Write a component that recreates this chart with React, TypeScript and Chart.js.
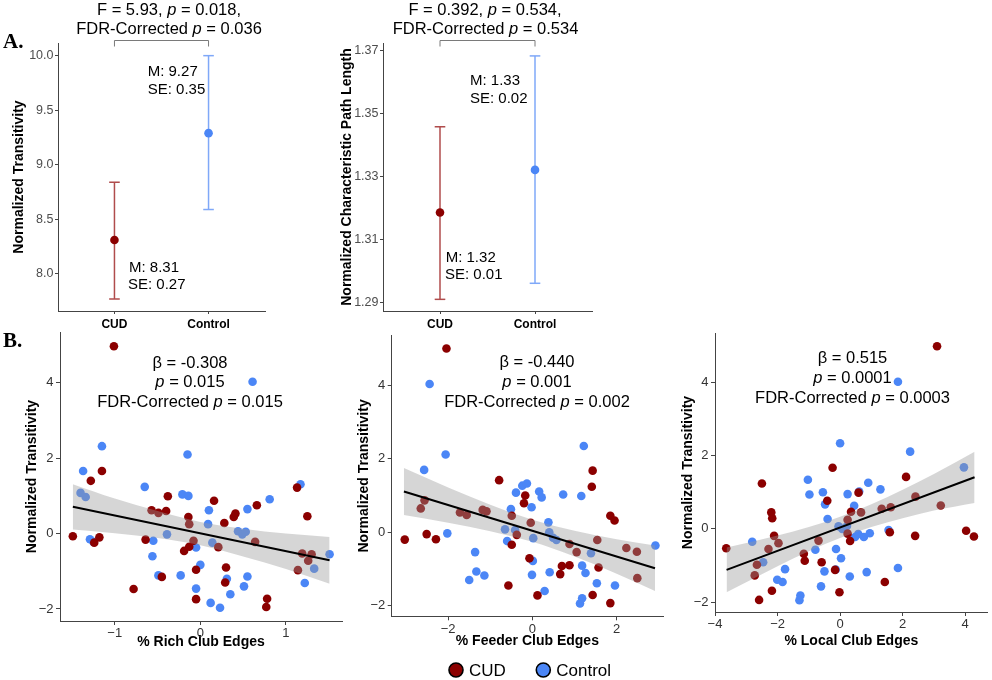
import React, { useEffect, useRef } from 'react';
import { Chart, registerables } from 'chart.js';
Chart.register(...registerables);

const FONT = 'Arial, "Liberation Sans", Helvetica, sans-serif';
const SERIF = '"Times New Roman", "Liberation Serif", serif';
const RED = '#8B0000';
const BLUE = '#4B86F6';
const RED_BAR = '#B04C4C';
const BLUE_BAR = '#7FA8F8';
const BAND = 'rgba(153,153,153,0.4)';

// ---- Panel A data ----
const groups = ['CUD', 'Control'];
const transMean = [8.31, 9.29];
const transLow = [7.77, 8.59];
const transHigh = [8.84, 10.0];
const pathMean = [1.3187, 1.3322];
const pathLow = [1.2911, 1.2962];
const pathHigh = [1.3459, 1.3684];
const transTicks = [8.0, 8.5, 9.0, 9.5, 10.0];
const pathTicks = [1.29, 1.31, 1.33, 1.35, 1.37];

// ---- Panel B data ----
const richCUD = [[-1.01,4.97],[-1.49,-0.07],[-1.15,1.66],[-1.28,1.40],[-1.18,-0.10],[-1.24,-0.24],[-0.78,-1.47],[-0.64,-0.16],[-0.57,0.62],[-0.49,0.55],[-0.40,0.60],[-0.38,0.99],[-0.45,-1.15],[-0.19,-0.46],[-0.14,0.44],[-0.13,0.25],[-0.08,-0.19],[-0.13,-0.35],[-0.05,-0.96],[-0.05,-1.74],[0.16,0.87],[0.21,-0.36],[0.28,0.28],[0.30,-0.90],[0.29,-1.30],[0.39,0.44],[0.41,0.53],[0.64,-0.22],[0.66,0.75],[0.78,-1.73],[0.77,-1.95],[1.13,1.22],[1.14,-0.97],[1.25,0.46],[1.19,-0.53],[1.26,-0.72],[1.30,-0.55]];
const richCtrl = [[-1.15,2.32],[-1.37,1.66],[-1.40,1.08],[-1.34,0.97],[-1.29,-0.15],[-1.25,-0.22],[-0.65,1.24],[-0.55,-0.19],[-0.56,-0.60],[-0.49,-1.11],[-0.39,-0.02],[-0.23,-1.11],[-0.21,1.04],[-0.14,1.00],[-0.15,2.10],[-0.05,-0.37],[-0.05,-1.46],[0.00,-0.83],[0.09,0.25],[0.10,0.62],[0.12,-1.84],[0.23,-1.97],[0.14,-0.24],[0.31,-1.20],[0.35,-1.61],[0.44,0.06],[0.49,-0.02],[0.53,0.05],[0.51,-1.40],[0.55,-1.14],[0.55,0.65],[0.81,0.91],[1.17,1.31],[1.22,-1.31],[1.33,-0.93],[1.51,-0.55],[0.61,4.03]];
const richFitX = [-1.49, 1.51];
const richFitY = [0.71, -0.71];
const richBandX = [-1.49, -1.0, -0.5, 0, 0.5, 1.0, 1.51];
const richBandHi = [1.31, 0.93, 0.60, 0.31, 0.13, 0.00, -0.09];
const richBandLo = [0.11, 0.01, -0.12, -0.31, -0.61, -0.94, -1.33];
const richXTicks = [-1, 0, 1];

const feederCUD = [[-2.04,5.01],[-3.03,-0.20],[-2.65,0.65],[-2.56,0.87],[-2.51,-0.05],[-2.29,-0.19],[-1.72,0.54],[-1.56,0.47],[-1.18,0.61],[-1.09,0.57],[-0.79,1.42],[-0.57,-1.45],[-0.49,0.45],[-0.49,-0.34],[-0.37,-0.07],[-0.17,1.00],[-0.20,0.79],[-0.04,0.26],[-0.07,-0.71],[0.12,-1.72],[0.88,-0.32],[1.05,-0.54],[0.70,-0.92],[0.88,-0.90],[0.66,-1.14],[1.54,-0.21],[1.57,-0.96],[1.43,-1.71],[1.43,1.68],[1.41,1.24],[1.85,0.45],[1.95,0.32],[1.85,-1.93],[2.23,-0.43],[2.48,-0.53],[2.49,-1.25]];
const feederCtrl = [[-2.44,4.04],[-2.06,2.12],[-2.57,1.70],[-2.02,-0.03],[-1.36,-0.54],[-1.33,-1.07],[-1.50,-1.30],[-1.14,-1.18],[-0.65,0.08],[-0.60,-0.24],[-0.51,0.63],[-0.39,1.08],[-0.41,0.06],[-0.24,1.27],[-0.13,1.33],[-0.02,0.68],[0.01,-0.78],[-0.01,-1.16],[0.02,-0.16],[0.16,1.11],[0.22,0.95],[0.38,0.27],[0.40,0.00],[0.41,-1.09],[0.49,-0.15],[0.57,-0.21],[0.29,-1.60],[0.73,1.03],[1.16,0.99],[1.22,2.35],[1.18,-0.91],[1.26,-1.11],[1.39,-0.57],[1.53,-1.39],[1.13,-1.94],[1.18,-1.80],[1.96,-1.45],[2.92,-0.36]];
const feederFitX = [-3.05, 2.91];
const feederFitY = [1.11, -0.98];
const feederBandX = [-3.05, -2.0, -1.0, 0, 1.0, 2.0, 2.91];
const feederBandHi = [1.75, 1.22, 0.75, 0.34, 0.04, -0.19, -0.36];
const feederBandLo = [0.47, 0.26, 0.03, -0.26, -0.66, -1.13, -1.60];
const feederXTicks = [-2, 0, 2];

const localCUD = [[3.10,4.99],[-3.64,-0.53],[-2.50,1.24],[-2.20,0.45],[-2.17,0.29],[-2.11,-0.19],[-1.97,-0.39],[-2.29,-0.55],[-2.66,-0.98],[-2.73,-1.27],[-2.18,-1.69],[-2.59,-1.94],[-1.16,-0.68],[-1.13,-0.87],[-0.69,-0.32],[-0.59,-0.91],[-0.24,1.67],[-0.41,0.77],[-0.16,-1.12],[-0.02,-1.73],[0.24,0.25],[0.24,-0.13],[0.32,-0.33],[0.35,0.47],[0.59,0.99],[0.67,0.45],[1.33,0.55],[1.62,0.59],[1.59,-0.09],[1.43,-1.45],[2.11,1.42],[2.41,0.88],[2.40,-0.19],[3.22,0.64],[4.03,-0.05],[4.28,-0.21]];
const localCtrl = [[1.85,4.02],[0.00,2.34],[2.24,2.11],[3.96,1.68],[-1.03,1.34],[-0.98,0.94],[-0.55,1.00],[-0.48,0.67],[-0.40,0.27],[0.24,0.95],[0.45,0.63],[0.61,1.02],[0.90,1.26],[1.29,1.08],[-0.05,0.07],[0.07,0.00],[0.22,0.08],[0.48,-0.22],[0.58,-0.14],[0.76,-0.22],[0.95,-0.12],[1.55,-0.03],[-2.81,-0.35],[-2.46,-0.91],[-1.76,-1.10],[-2.01,-1.39],[-1.84,-1.45],[-1.27,-1.82],[-1.30,-1.95],[-0.79,-0.57],[-0.61,-1.57],[-0.50,-1.16],[-0.13,-0.55],[-0.14,-1.11],[0.03,-0.80],[0.31,-1.30],[0.85,-1.18],[1.85,-1.07]];
const localFitX = [-3.63, 4.30];
const localFitY = [-1.12, 1.41];
const localBandX = [-3.63, -2.0, -1.0, 0, 1.0, 2.0, 3.0, 4.30];
const localBandHi = [-0.51, -0.18, 0.05, 0.33, 0.67, 1.07, 1.50, 2.11];
const localBandLo = [-1.73, -1.02, -0.61, -0.25, 0.05, 0.29, 0.50, 0.71];
const localXTicks = [-4, -2, 0, 2, 4];
const transYTicksB = [-2, 0, 2, 4];

// ---- helpers ----
function drawRuns(ctx: CanvasRenderingContext2D, text: string, x: number, y: number, size: number, align: 'center' | 'left') {
  const parts = text.split('*');
  const fonts = parts.map((_, k) => `${k % 2 === 1 ? 'italic ' : ''}${size}px ${FONT}`);
  let total = 0;
  const widths = parts.map((p, k) => { ctx.font = fonts[k]; const w = ctx.measureText(p).width; total += w; return w; });
  let cx = align === 'center' ? x - total / 2 : x;
  ctx.textAlign = 'left';
  ctx.textBaseline = 'alphabetic';
  ctx.fillStyle = '#000';
  parts.forEach((p, k) => { ctx.font = fonts[k]; ctx.fillText(p, cx, y); cx += widths[k]; });
}

const minus = (v: number) => (v < 0 ? '\u2212' + Math.abs(v) : String(v));

type Spec = {
  L: number; R: number; T: number; B: number;
  yTitleX: number; xTitleY?: number;
  xMin: number; xMax: number; yMin: number; yMax: number;
  xTicks: number[]; yTicks: number[];
  xFmt: (v: number) => string; yFmt: (v: number) => string;
  xTitle?: string; yTitle: string;
  xTickFont: any; yTickFont: any; tickColor: string; xTickColor: string;
  tickLen: number; yPad: number; xPad: number;
  datasets: any[];
  draw: (ctx: CanvasRenderingContext2D, chart: any) => void;
};

function makeConfig(s: Spec): any {
  const titleLH = 14 * 1.2;
  const padLeft = s.yTitleX - titleLH / 2;
  const yW = s.L - padLeft;
  const xH = s.xTitleY !== undefined ? s.xTitleY + titleLH / 2 - s.B : 30;
  const padBottom = 680 - s.B - xH;
  return {
    type: 'scatter',
    data: { datasets: s.datasets },
    options: {
      responsive: false,
      animation: false,
      events: [],
      layout: { padding: { left: padLeft, top: s.T, right: 992 - s.R, bottom: padBottom } },
      plugins: { legend: { display: false }, tooltip: { enabled: false }, title: { display: false } },
      scales: {
        x: {
          type: 'linear', position: 'bottom', min: s.xMin, max: s.xMax,
          afterBuildTicks: (ax: any) => { ax.ticks = s.xTicks.map((v) => ({ value: v })); },
          afterFit: (ax: any) => { ax.height = xH; },
          ticks: { callback: (v: any) => s.xFmt(Number(v)), font: s.xTickFont, color: s.xTickColor, padding: s.xPad, maxRotation: 0, autoSkip: false },
          grid: { display: true, drawOnChartArea: false, drawTicks: true, tickLength: s.tickLen, color: '#444' },
          border: { display: true, color: '#444', width: 1 },
          title: s.xTitle ? { display: true, text: s.xTitle, font: { family: FONT, size: 14, weight: 'bold' }, color: '#000', padding: 0 } : { display: false },
        },
        y: {
          type: 'linear', position: 'left', min: s.yMin, max: s.yMax,
          afterBuildTicks: (ax: any) => { ax.ticks = s.yTicks.map((v) => ({ value: v })); },
          afterFit: (ax: any) => { ax.width = yW; },
          ticks: { callback: (v: any) => s.yFmt(Number(v)), font: s.yTickFont, color: s.tickColor, padding: s.yPad, autoSkip: false },
          grid: { display: true, drawOnChartArea: false, drawTicks: true, tickLength: s.tickLen, color: '#444' },
          border: { display: true, color: '#444', width: 1 },
          title: { display: true, text: s.yTitle, font: { family: FONT, size: 14, weight: 'bold' }, color: '#000', padding: 0 },
        },
      },
    },
    plugins: [{ id: 'annot', afterDraw(chart: any) { const ctx = chart.ctx; ctx.save(); s.draw(ctx, chart); ctx.restore(); } }],
  };
}

const errDs = (x: number, lo: number, hi: number, color: string) => ({
  data: [{ x, y: lo }, { x, y: hi }], showLine: true, borderColor: color, borderWidth: 1.5,
  pointStyle: 'line', pointRadius: 5.3, pointBorderColor: color, pointBorderWidth: 1.5, pointBackgroundColor: color, clip: false,
});
const meanDs = (means: number[]) => ({
  data: means.map((m, i) => ({ x: i + 1, y: m })), showLine: false, pointRadius: 4.3,
  pointBackgroundColor: [RED, BLUE], pointBorderColor: [RED, BLUE], pointBorderWidth: 0, clip: false,
});

function scatterSets(cud: number[][], ctrl: number[][], fx: number[], fy: number[], bx: number[], bhi: number[], blo: number[]) {
  return [
    { data: fx.map((x, i) => ({ x, y: fy[i] })), showLine: true, borderColor: '#000', borderWidth: 2, pointRadius: 0 },
    { data: bx.map((x, i) => ({ x, y: bhi[i] })), showLine: true, borderColor: 'rgba(0,0,0,0)', borderWidth: 1, pointRadius: 0, fill: '+1', backgroundColor: BAND, cubicInterpolationMode: 'monotone' },
    { data: bx.map((x, i) => ({ x, y: blo[i] })), showLine: true, borderColor: 'rgba(0,0,0,0)', borderWidth: 1, pointRadius: 0, fill: false, cubicInterpolationMode: 'monotone' },
    { data: cud.map(([x, y]) => ({ x, y })), showLine: false, pointRadius: 4.3, pointBackgroundColor: RED, pointBorderColor: RED, pointBorderWidth: 0, clip: false },
    { data: ctrl.map(([x, y]) => ({ x, y })), showLine: false, pointRadius: 4.3, pointBackgroundColor: BLUE, pointBorderColor: BLUE, pointBorderWidth: 0, clip: false },
  ];
}

function bracket(ctx: CanvasRenderingContext2D, chart: any) {
  const x1 = chart.scales.x.getPixelForValue(1);
  const x2 = chart.scales.x.getPixelForValue(2);
  ctx.strokeStyle = '#7a7a7a';
  ctx.lineWidth = 1;
  ctx.beginPath();
  ctx.moveTo(x1, 46.5); ctx.lineTo(x1, 40.5); ctx.lineTo(x2, 40.5); ctx.lineTo(x2, 46.5);
  ctx.stroke();
}

const aTickY = { family: FONT, size: 12.5 };
const aTickX = { family: FONT, size: 12, weight: 'bold' };
const bTick = { family: FONT, size: 13 };

const specs: Spec[] = [
  {
    L: 58, R: 265, T: 43, B: 311, yTitleX: 19.5,
    xMin: 0.4, xMax: 2.6, yMin: 7.66, yMax: 10.116,
    xTicks: [1, 2], yTicks: transTicks,
    xFmt: (v) => groups[Math.round(v) - 1] ?? '', yFmt: (v) => v.toFixed(1),
    yTitle: 'Normalized Transitivity',
    xTickFont: aTickX, yTickFont: aTickY, tickColor: '#4d4d4d', xTickColor: '#000',
    tickLen: 3, yPad: 1.5, xPad: 3,
    datasets: [meanDs(transMean), errDs(1, transLow[0], transHigh[0], RED_BAR), errDs(2, transLow[1], transHigh[1], BLUE_BAR)],
    draw: (ctx, chart) => {
      drawRuns(ctx, 'F = 5.93, *p* = 0.018,', 169, 15, 16.5, 'center');
      drawRuns(ctx, 'FDR-Corrected *p* = 0.036', 169, 34, 16.5, 'center');
      bracket(ctx, chart);
      drawRuns(ctx, 'M: 9.27', 147.7, 76, 15, 'left');
      drawRuns(ctx, 'SE: 0.35', 147.7, 93.5, 15, 'left');
      drawRuns(ctx, 'M: 8.31', 129, 271.5, 15, 'left');
      drawRuns(ctx, 'SE: 0.27', 128, 289, 15, 'left');
      ctx.font = `bold 21px ${SERIF}`;
      ctx.fillStyle = '#000';
      ctx.textAlign = 'left';
      ctx.textBaseline = 'alphabetic';
      ctx.fillText('A.', 3, 48);
    },
  },
  {
    L: 383, R: 592, T: 43, B: 311, yTitleX: 346.7,
    xMin: 0.4, xMax: 2.6, yMin: 1.2874, yMax: 1.3725,
    xTicks: [1, 2], yTicks: pathTicks,
    xFmt: (v) => groups[Math.round(v) - 1] ?? '', yFmt: (v) => v.toFixed(2),
    yTitle: 'Normalized Characteristic Path Length',
    xTickFont: aTickX, yTickFont: aTickY, tickColor: '#4d4d4d', xTickColor: '#000',
    tickLen: 3, yPad: 1.5, xPad: 3,
    datasets: [meanDs(pathMean), errDs(1, pathLow[0], pathHigh[0], RED_BAR), errDs(2, pathLow[1], pathHigh[1], BLUE_BAR)],
    draw: (ctx, chart) => {
      drawRuns(ctx, 'F = 0.392, *p* = 0.534,', 485, 15, 16.5, 'center');
      drawRuns(ctx, 'FDR-Corrected *p* = 0.534', 485.5, 34, 16.5, 'center');
      bracket(ctx, chart);
      drawRuns(ctx, 'M: 1.33', 470, 85, 15, 'left');
      drawRuns(ctx, 'SE: 0.02', 470, 103, 15, 'left');
      drawRuns(ctx, 'M: 1.32', 445.7, 261.5, 15, 'left');
      drawRuns(ctx, 'SE: 0.01', 445, 279, 15, 'left');
    },
  },
  {
    L: 60, R: 342, T: 332, B: 621, yTitleX: 31.7, xTitleY: 642,
    xMin: -1.64, xMax: 1.655, yMin: -2.32, yMax: 5.35,
    xTicks: richXTicks, yTicks: transYTicksB,
    xFmt: minus, yFmt: minus,
    xTitle: '% Rich Club Edges', yTitle: 'Normalized Transitivity',
    xTickFont: bTick, yTickFont: bTick, tickColor: '#333', xTickColor: '#333',
    tickLen: 4, yPad: 2.5, xPad: 1,
    datasets: scatterSets(richCUD, richCtrl, richFitX, richFitY, richBandX, richBandHi, richBandLo),
    draw: (ctx) => {
      drawRuns(ctx, '\u03b2 = -0.308', 190, 367.5, 16.5, 'center');
      drawRuns(ctx, '*p* = 0.015', 190, 387.3, 16.5, 'center');
      drawRuns(ctx, 'FDR-Corrected *p* = 0.015', 190, 407.3, 16.5, 'center');
      ctx.font = `bold 21px ${SERIF}`;
      ctx.fillStyle = '#000';
      ctx.textAlign = 'left';
      ctx.textBaseline = 'alphabetic';
      ctx.fillText('B.', 3, 347);
    },
  },
  {
    L: 391.7, R: 663, T: 335.6, B: 616.3, yTitleX: 364, xTitleY: 641,
    xMin: -3.34, xMax: 3.10, yMin: -2.29, yMax: 5.36,
    xTicks: feederXTicks, yTicks: transYTicksB,
    xFmt: minus, yFmt: minus,
    xTitle: '% Feeder Club Edges', yTitle: 'Normalized Transitivity',
    xTickFont: bTick, yTickFont: bTick, tickColor: '#333', xTickColor: '#333',
    tickLen: 4, yPad: 2.5, xPad: 1,
    datasets: scatterSets(feederCUD, feederCtrl, feederFitX, feederFitY, feederBandX, feederBandHi, feederBandLo),
    draw: (ctx) => {
      drawRuns(ctx, '\u03b2 = -0.440', 537, 367.3, 16.5, 'center');
      drawRuns(ctx, '*p* = 0.001', 537, 387.3, 16.5, 'center');
      drawRuns(ctx, 'FDR-Corrected *p* = 0.002', 537, 407.3, 16.5, 'center');
      // legend
      const items: [string, string, number][] = [['CUD', RED, 456], ['Control', BLUE, 543.3]];
      items.forEach(([label, col, cx]) => {
        ctx.beginPath();
        ctx.arc(cx, 670, 7, 0, Math.PI * 2);
        ctx.fillStyle = col;
        ctx.fill();
        ctx.lineWidth = 1.6;
        ctx.strokeStyle = '#000';
        ctx.stroke();
        ctx.font = `17px ${FONT}`;
        ctx.fillStyle = '#000';
        ctx.textAlign = 'left';
        ctx.textBaseline = 'alphabetic';
        ctx.fillText(label, cx + 13, 676);
      });
    },
  },
  {
    L: 715, R: 990, T: 333, B: 612, yTitleX: 688.3, xTitleY: 641,
    xMin: -4.0, xMax: 4.72, yMin: -2.27, yMax: 5.35,
    xTicks: localXTicks, yTicks: transYTicksB,
    xFmt: minus, yFmt: minus,
    xTitle: '% Local Club Edges', yTitle: 'Normalized Transitivity',
    xTickFont: bTick, yTickFont: bTick, tickColor: '#333', xTickColor: '#333',
    tickLen: 4, yPad: 2.5, xPad: 1,
    datasets: scatterSets(localCUD, localCtrl, localFitX, localFitY, localBandX, localBandHi, localBandLo),
    draw: (ctx) => {
      drawRuns(ctx, '\u03b2 = 0.515', 852.5, 363.3, 16.5, 'center');
      drawRuns(ctx, '*p* = 0.0001', 852.5, 383.3, 16.5, 'center');
      drawRuns(ctx, 'FDR-Corrected *p* = 0.0003', 852.5, 403.3, 16.5, 'center');
    },
  },
];

export default function App() {
  const refs = useRef<(HTMLCanvasElement | null)[]>([]);
  useEffect(() => {
    const charts = specs.map((s, i) => new Chart(refs.current[i] as HTMLCanvasElement, makeConfig(s)));
    return () => charts.forEach((c) => c.destroy());
  }, []);
  return (
    <div style={{ position: 'absolute', left: 0, top: 0, width: 992, height: 680, background: '#fff' }}>
      {specs.map((_, i) => (
        <canvas
          key={i}
          ref={(el) => { refs.current[i] = el; }}
          width={992}
          height={680}
          style={{ position: 'absolute', left: 0, top: 0, width: 992, height: 680 }}
        />
      ))}
    </div>
  );
}
